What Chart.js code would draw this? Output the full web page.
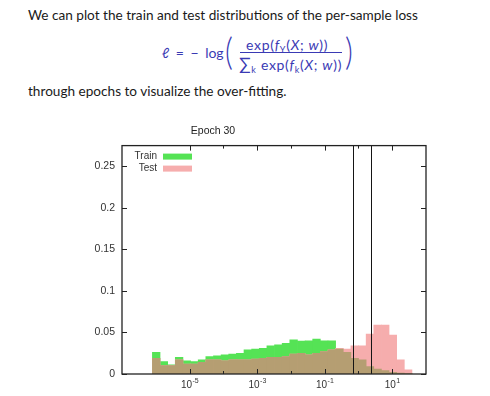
<!DOCTYPE html>
<html>
<head>
<meta charset="utf-8">
<script src="https://cdn.jsdelivr.net/npm/chart.js@4.4.0/dist/chart.umd.min.js"></script>
<style>
  body { margin: 0; background: #fff; width: 490px; height: 396px; overflow: hidden; position: relative; font-family: Lato, "Open Sans", sans-serif; color: #1a1a1a; }
  .txt { position: absolute; font-size: 13.6px; line-height: 1; white-space: nowrap; }
  .f { position: absolute; color: #3a3ab4; font-size: 14px; line-height: 1; white-space: nowrap; }
  .f sub { font-size: 9px; vertical-align: -3px; }
  .big { font-size: 17px; }
  .sp { letter-spacing: 0.7px; }
  #chartBox { position: absolute; left: 0; top: 110px; width: 490px; height: 286px; }
</style>
</head>
<body>
<div class="txt" style="left:28px; top:9px;">We can plot the train and test distributions of the per-sample loss</div>
<div class="f" style="left:162px; top:46px; word-spacing:3px;"><i>ℓ</i> = − log</div>
<div class="f" style="left:224px; top:31px; font-size:38px; font-weight:300; transform:scaleX(0.8);">(</div>
<div class="f sp" style="left:246px; top:38px;">exp(<i>f</i><sub>Y</sub>(<i>X</i>; <i>w</i>))</div>
<div class="f" style="left:240px; top:52px; width:102px; height:1px; background:#3a3ab4;"></div>
<div class="f sp" style="left:239px; top:55px;"><span class="big">∑</span><sub>k</sub> exp(<i>f</i><sub>k</sub>(<i>X</i>; <i>w</i>))</div>
<div class="f" style="left:344px; top:31px; font-size:38px; font-weight:300; transform:scaleX(0.8);">)</div>
<div class="txt" style="left:28px; top:85px;">through epochs to visualize the over-fitting.</div>
<div id="chartBox"><canvas id="chartCanvas" width="490" height="286"></canvas></div>
<script>
// histogram bins, log10(loss) at bin centre
const binCenters = [-5.987,-5.761,-5.535,-5.309,-5.083,-4.857,-4.631,-4.405,-4.179,-3.953,
  -3.727,-3.501,-3.275,-3.049,-2.823,-2.597,-2.371,-2.145,-1.919,-1.693,
  -1.467,-1.241,-1.015,-0.789,-0.563,-0.337,-0.111,0.115,0.341,0.567,
  0.793,1.019,1.245,1.471];
const trainValues = [0.026,0.015,0.011,0.020,0.016,0.015,0.017,0.021,0.022,0.023,
  0.024,0.025,0.029,0.030,0.031,0.034,0.035,0.037,0.041,0.0395,
  0.040,0.042,0.040,0.040,0.030,0.026,0.019,0.017,0.009,0.006,
  0.004,0.002,0.001,0.0005];
const testValues = [0.019,0.010,0.010,0.017,0.012,0.012,0.014,0.017,0.017,0.016,
  0.017,0.017,0.017,0.018,0.019,0.020,0.020,0.021,0.024,0.025,
  0.023,0.025,0.027,0.029,0.031,0.030,0.034,0.034,0.048,0.059,
  0.059,0.047,0.017,0.005];
const yTickValues = [0, 0.05, 0.1, 0.15, 0.2, 0.25];
const yTickLabels = ['0', '0.05', '0.1', '0.15', '0.2', '0.25'];
const xMajorExps = [-5, -3, -1, 1];
const xMinorExps = [-4, -2, 0];
const refLosses = [0.69, 2.3];
const keyOrder = ['Train', 'Test'];

const GREEN = '#55e355';
const PINK = '#f6adad';
const OVERLAP = '#b59e72';

function toPoints(vals) {
  return binCenters.map((c, i) => ({ x: c, y: vals[i] }));
}
const overlapValues = trainValues.map((v, i) => Math.min(v, testValues[i]));

const gnuFrame = {
  id: 'gnuFrame',
  afterDatasetsDraw(chart) {
    const { ctx, chartArea: a, scales: { x, y } } = chart;
    ctx.save();
    // lignes verticales
    ctx.strokeStyle = '#151515';
    ctx.lineWidth = 1;
    refLosses.forEach(v => {
      const px = Math.round(x.getPixelForValue(Math.log10(v))) + 0.5;
      ctx.beginPath(); ctx.moveTo(px, a.top); ctx.lineTo(px, a.bottom); ctx.stroke();
    });
    // cadre
    ctx.strokeStyle = '#222';
    ctx.lineWidth = 1.3;
    ctx.strokeRect(a.left, a.top, a.right - a.left, a.bottom - a.top);
    ctx.lineWidth = 1;
    const tick = (x0, y0, x1, y1) => { ctx.beginPath(); ctx.moveTo(x0, y0); ctx.lineTo(x1, y1); ctx.stroke(); };
    yTickValues.forEach(v => {
      const py = Math.round(y.getPixelForValue(v)) + 0.5;
      tick(a.left, py, a.left + 5, py);
      tick(a.right - 5, py, a.right, py);
    });
    xMajorExps.forEach(e => {
      const px = Math.round(x.getPixelForValue(e)) + 0.5;
      tick(px, a.bottom, px, a.bottom - 5);
      tick(px, a.top, px, a.top + 5);
    });
    xMinorExps.forEach(e => {
      const px = Math.round(x.getPixelForValue(e)) + 0.5;
      tick(px, a.bottom, px, a.bottom - 3);
      tick(px, a.top, px, a.top + 3);
    });
    // etiquettes 10^n
    ctx.fillStyle = '#333';
    ctx.textBaseline = 'alphabetic';
    xMajorExps.forEach(e => {
      const px = x.getPixelForValue(e);
      ctx.font = '10px "Liberation Sans", Arial, sans-serif';
      const w1 = ctx.measureText('10').width;
      ctx.font = '7px "Liberation Sans", Arial, sans-serif';
      const w2 = ctx.measureText(String(e)).width;
      const x0 = px - (w1 + w2) / 2;
      ctx.font = '10px "Liberation Sans", Arial, sans-serif';
      ctx.textAlign = 'left';
      ctx.fillText('10', x0, a.bottom + 14);
      ctx.font = '7px "Liberation Sans", Arial, sans-serif';
      ctx.fillText(String(e), x0 + w1 + 0.5, a.bottom + 9);
    });
    // légende
    ctx.font = '10px "Liberation Sans", Arial, sans-serif';
    ctx.textAlign = 'right';
    ctx.textBaseline = 'middle';
    keyOrder.forEach((name, i) => {
      const d = chart.data.datasets.find(ds => ds.label === name);
      const cy = a.top + 11 + i * 12;
      ctx.fillStyle = '#333';
      ctx.fillText(d.label, a.left + 35, cy);
      ctx.fillStyle = d.backgroundColor;
      ctx.fillRect(a.left + 41, cy - 3, 29, 6);
    });
    ctx.restore();
  }
};

document.addEventListener('DOMContentLoaded', () => {
  const ctx = document.getElementById('chartCanvas').getContext('2d');
  new Chart(ctx, {
    type: 'bar',
    data: {
      datasets: [
        { label: 'Overlap', data: toPoints(overlapValues), backgroundColor: OVERLAP, order: 0 },
        { label: 'Test', data: toPoints(testValues), backgroundColor: PINK, order: 1 },
        { label: 'Train', data: toPoints(trainValues), backgroundColor: GREEN, order: 2 }
      ]
    },
    options: {
      responsive: false,
      animation: false,
      grouped: false,
      barPercentage: 1,
      categoryPercentage: 1,
      layout: { padding: { left: 0, right: 64, top: 0, bottom: 0 } },
      plugins: {
        legend: { display: false },
        tooltip: { enabled: false },
        title: {
          display: true,
          text: 'Epoch 30',
          color: '#222',
          font: { family: '"Liberation Sans", Arial, sans-serif', size: 10.5, weight: 'normal' },
          padding: { top: 15, bottom: 8 }
        }
      },
      scales: {
        x: {
          type: 'linear',
          offset: false,
          min: -7,
          max: 2,
          grid: { display: false, drawTicks: false, offset: false },
          border: { display: false },
          ticks: { display: false },
          afterFit: s => { s.height = 22; }
        },
        y: {
          min: 0,
          max: 0.275,
          grid: { display: false, drawTicks: false },
          border: { display: false },
          afterBuildTicks: s => { s.ticks = yTickValues.map(v => ({ value: v })); },
          ticks: {
            padding: 7,
            color: '#333',
            font: { family: '"Liberation Sans", Arial, sans-serif', size: 10.5 },
            callback: (v, i) => yTickLabels[i]
          },
          afterFit: s => { s.width = 122; }
        }
      }
    },
    plugins: [gnuFrame]
  });
});
</script>
</body>
</html>
